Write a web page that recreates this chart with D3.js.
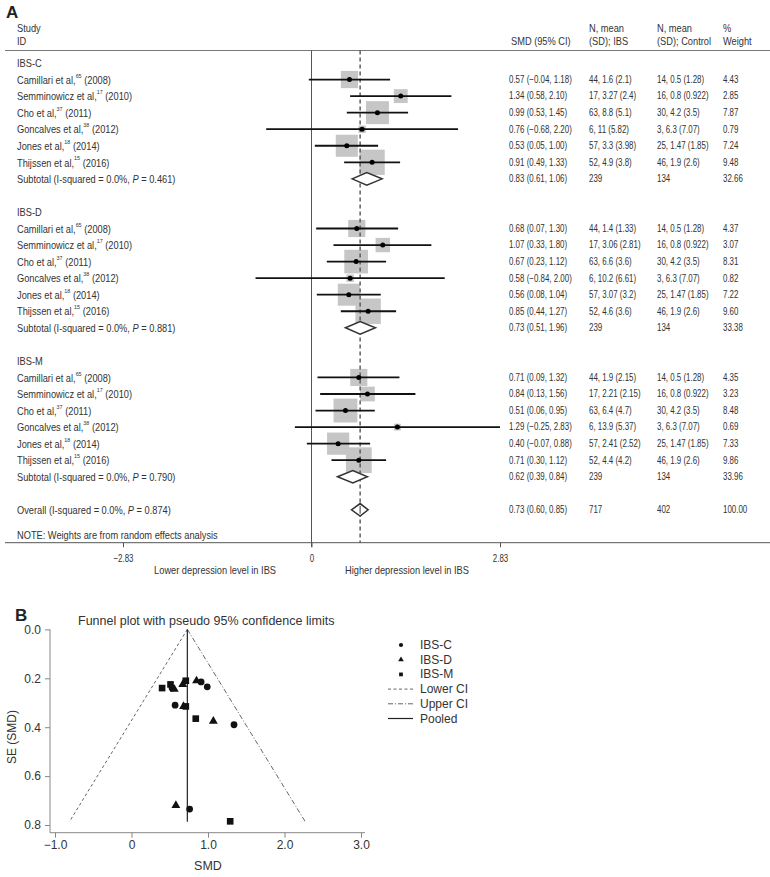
<!DOCTYPE html>
<html><head><meta charset="utf-8">
<script src="https://cdn.jsdelivr.net/npm/d3@7"></script>
<style>
body{margin:0;background:#fff;}
svg{display:block;}
.ft{font-family:"Liberation Sans",Arial,Helvetica,sans-serif;font-size:10.3px;fill:#333;}
.fn{font-family:"Liberation Sans",Arial,Helvetica,sans-serif;fill:#333;}
</style></head><body>
<svg id="c" width="770" height="877"></svg>
<script>
// ---------------- DATA ----------------
const groups = ["IBS-C", "IBS-D", "IBS-M"];
const studyNames = ["Camillari et al,", "Semminowicz et al,", "Cho et al,", "Goncalves et al,", "Jones et al,", "Thijssen et al,"];
const studyRefs = ["65", "17", "37", "38", "18", "15"];
const studyYears = ["(2008)", "(2010)", "(2011)", "(2012)", "(2014)", "(2016)"];
const smd = [
  [0.57, 1.34, 0.99, 0.76, 0.53, 0.91],
  [0.68, 1.07, 0.67, 0.58, 0.56, 0.85],
  [0.71, 0.84, 0.51, 1.29, 0.40, 0.71]
];
const ciLow = [
  [-0.04, 0.58, 0.53, -0.68, 0.05, 0.49],
  [0.07, 0.33, 0.23, -0.84, 0.08, 0.44],
  [0.09, 0.13, 0.06, -0.25, -0.07, 0.30]
];
const ciHigh = [
  [1.18, 2.10, 1.45, 2.20, 1.00, 1.33],
  [1.30, 1.80, 1.12, 2.00, 1.04, 1.27],
  [1.32, 1.56, 0.95, 2.83, 0.88, 1.12]
];
const nMeanIBS = [
  ["44, 1.6 (2.1)", "17, 3.27 (2.4)", "63, 8.8 (5.1)", "6, 11 (5.82)", "57, 3.3 (3.98)", "52, 4.9 (3.8)"],
  ["44, 1.4 (1.33)", "17, 3.06 (2.81)", "63, 6.6 (3.6)", "6, 10.2 (6.61)", "57, 3.07 (3.2)", "52, 4.6 (3.6)"],
  ["44, 1.9 (2.15)", "17, 2.21 (2.15)", "63, 6.4 (4.7)", "6, 13.9 (5.37)", "57, 2.41 (2.52)", "52, 4.4 (4.2)"]
];
const nMeanControl = [
  ["14, 0.5 (1.28)", "16, 0.8 (0.922)", "30, 4.2 (3.5)", "3, 6.3 (7.07)", "25, 1.47 (1.85)", "46, 1.9 (2.6)"],
  ["14, 0.5 (1.28)", "16, 0.8 (0.922)", "30, 4.2 (3.5)", "3, 6.3 (7.07)", "25, 1.47 (1.85)", "46, 1.9 (2.6)"],
  ["14, 0.5 (1.28)", "16, 0.8 (0.922)", "30, 4.2 (3.5)", "3, 6.3 (7.07)", "25, 1.47 (1.85)", "46, 1.9 (2.6)"]
];
const weights = [
  [4.43, 2.85, 7.87, 0.79, 7.24, 9.48],
  [4.37, 3.07, 8.31, 0.82, 7.22, 9.60],
  [4.35, 3.23, 8.48, 0.69, 7.33, 9.86]
];
const subSMD = [0.83, 0.73, 0.62];
const subLow = [0.61, 0.51, 0.39];
const subHigh = [1.06, 0.96, 0.84];          // as drawn
const subHighPrinted = [1.06, 1.96, 0.84];   // as printed in the table
const subP = ["0.461", "0.881", "0.790"];
const subNIBS = ["239", "239", "239"];
const subNControl = ["134", "134", "134"];
const subWeight = ["32.66", "33.38", "33.96"];
const overallSMD = 0.73, overallLow = 0.60, overallHigh = 0.85, overallP = "0.874";
const overallNIBS = "717", overallNControl = "402", overallWeight = "100.00";
const forestTicks = [-2.83, 0, 2.83];

// funnel plot
const seFunnel = [
  [0.31, 0.39, 0.235, 0.735, 0.24, 0.215],
  [0.315, 0.375, 0.225, 0.72, 0.245, 0.21],
  [0.315, 0.365, 0.225, 0.785, 0.24, 0.21]
];
const funnelXTicks = [-1, 0, 1, 2, 3];
const funnelYTicks = [0, 0.2, 0.4, 0.6, 0.8];
const pooledSMD = 0.73, funnelSEMax = 0.787, zCrit = 1.96;
const legendLabels = ["IBS-C", "IBS-D", "IBS-M", "Lower CI", "Upper CI", "Pooled"];

// ---------------- DRAW ----------------
const svg = d3.select("#c");
const fmt = v => (v < 0 ? "\u2212" : "") + d3.format(".2f")(Math.abs(v));
const ciText = (e, l, h) => `${fmt(e)} (${fmt(l)}, ${fmt(h)})`;

// Panel A
svg.append("text").attr("x", 6).attr("y", 18).attr("class", "fn")
  .style("font-size", "17px").style("font-weight", "bold").style("fill", "#222").text("A");

const colX = {study: 17, ci: 509, ibs: 589, ctrl: 657, w: 723};
const hdr = [[colX.study, 28, "Study"], [colX.study, 41, "ID"], [colX.ci + 2, 41, "SMD (95% CI)"],
  [colX.ibs, 28, "N, mean"], [colX.ibs, 41, "(SD); IBS"], [colX.ctrl, 28, "N, mean"],
  [colX.ctrl, 41, "(SD); Control"], [colX.w, 28, "%"], [colX.w, 41, "Weight"]];
svg.selectAll("text.hdr").data(hdr).join("text").attr("class", "ft wide hdr")
  .attr("x", d => d[0]).attr("y", d => d[1]).attr("dominant-baseline", "central").text(d => d[2]);
svg.append("line").attr("x1", 5).attr("x2", 770).attr("y1", 50.5).attr("y2", 50.5)
  .attr("stroke", "#777").attr("stroke-width", 1);

const fx = d3.scaleLinear().domain([-2.83, 2.83]).range([123, 500]);
const rowY = d3.scaleLinear().domain([0, 27]).range([63, 509.85]);
const boxSide = d3.scaleSqrt().domain([0, 1]).range([0, 8.2]);
const topY = 50.5, axisY = 542.7;

// rows
const studyRows = [], subRows = [], groupRows = [];
groups.forEach((g, gi) => {
  const base = gi * 9;
  groupRows.push({y: rowY(base), label: g});
  studyNames.forEach((s, si) => {
    studyRows.push({y: rowY(base + 1 + si), name: s, ref: studyRefs[si], year: studyYears[si],
      est: smd[gi][si], lo: ciLow[gi][si], hi: ciHigh[gi][si], w: weights[gi][si],
      ibs: nMeanIBS[gi][si], ctrl: nMeanControl[gi][si]});
  });
  subRows.push({y: rowY(base + 7), est: subSMD[gi], lo: subLow[gi], hi: subHigh[gi], hiP: subHighPrinted[gi],
    p: subP[gi], ibs: subNIBS[gi], ctrl: subNControl[gi], w: subWeight[gi], label: "Subtotal"});
});
const overallRow = {y: rowY(27), est: overallSMD, lo: overallLow, hi: overallHigh, hiP: overallHigh,
  p: overallP, ibs: overallNIBS, ctrl: overallNControl, w: overallWeight, label: "Overall"};

// zero line
svg.append("line").attr("x1", fx(0)).attr("x2", fx(0)).attr("y1", topY).attr("y2", axisY + 4.5)
  .attr("stroke", "#555").attr("stroke-width", 1);

// boxes
svg.selectAll("rect.box").data(studyRows).join("rect").attr("class", "box")
  .attr("x", d => fx(d.est) - boxSide(d.w) / 2).attr("y", d => d.y - boxSide(d.w) / 2)
  .attr("width", d => boxSide(d.w)).attr("height", d => boxSide(d.w)).attr("fill", "#c6c6c6");

// dashed overall line
svg.append("line").attr("x1", fx(overallSMD)).attr("x2", fx(overallSMD)).attr("y1", topY).attr("y2", axisY)
  .attr("stroke", "#555").attr("stroke-width", 1.4).attr("stroke-dasharray", "4,3");

// CI lines
svg.selectAll("line.ci").data(studyRows).join("line").attr("class", "ci")
  .attr("x1", d => fx(d.lo)).attr("x2", d => fx(d.hi)).attr("y1", d => d.y).attr("y2", d => d.y)
  .attr("stroke", "#111").attr("stroke-width", 1.8);
svg.selectAll("circle.pt").data(studyRows).join("circle").attr("class", "pt")
  .attr("cx", d => fx(d.est)).attr("cy", d => d.y).attr("r", 2.5).attr("fill", "#000");

// diamonds
const dia = d => {
  const h = 6.3;
  return `M${fx(d.lo)},${d.y}L${fx(d.est)},${d.y - h}L${fx(d.hi)},${d.y}L${fx(d.est)},${d.y + h}Z`;
};
svg.selectAll("path.dia").data([...subRows, overallRow]).join("path").attr("class", "dia")
  .attr("d", dia).attr("fill", "#fff").attr("stroke", "#333").attr("stroke-width", 1.5);
svg.append("line").attr("x1", fx(overallSMD)).attr("x2", fx(overallSMD))
  .attr("y1", overallRow.y - 4).attr("y2", overallRow.y + 4).attr("stroke", "#555").attr("stroke-width", 1.2);

// texts
svg.selectAll("text.grp").data(groupRows).join("text").attr("class", "ft wide grp")
  .attr("x", colX.study).attr("y", d => d.y).attr("dominant-baseline", "central").text(d => d.label);

const st = svg.selectAll("text.study").data(studyRows).join("text").attr("class", "ft wide study")
  .attr("x", colX.study).attr("y", d => d.y).attr("dominant-baseline", "central");
st.append("tspan").text(d => d.name);
st.append("tspan").attr("dy", -4).style("font-size", "6px").text(d => d.ref);
st.append("tspan").attr("dy", 4).text(d => " " + d.year);

const cols = (sel, rows) => {
  sel.selectAll(null).data(rows).join("text").attr("class", "ft").attr("x", colX.ci).attr("y", d => d.y)
    .attr("dominant-baseline", "central").text(d => ciText(d.est, d.lo, d.hiP !== undefined ? d.hiP : d.hi));
  sel.selectAll(null).data(rows).join("text").attr("class", "ft").attr("x", colX.ibs).attr("y", d => d.y)
    .attr("dominant-baseline", "central").text(d => d.ibs);
  sel.selectAll(null).data(rows).join("text").attr("class", "ft").attr("x", colX.ctrl).attr("y", d => d.y)
    .attr("dominant-baseline", "central").text(d => d.ctrl);
  sel.selectAll(null).data(rows).join("text").attr("class", "ft").attr("x", colX.w).attr("y", d => d.y)
    .attr("dominant-baseline", "central").text(d => typeof d.w === "number" ? d3.format(".2f")(d.w) : d.w);
};
cols(svg.append("g"), studyRows);
cols(svg.append("g"), [...subRows, overallRow]);

const sl = svg.selectAll("text.sub").data([...subRows, overallRow]).join("text").attr("class", "ft wide sub")
  .attr("x", colX.study).attr("y", d => d.y).attr("dominant-baseline", "central");
sl.append("tspan").text(d => d.label + " (I-squared = 0.0%, ");
sl.append("tspan").style("font-style", "italic").text("P");
sl.append("tspan").text(d => " = " + d.p + ")");

svg.append("text").attr("class", "ft wide").attr("x", colX.study).attr("y", 535.7)
  .attr("dominant-baseline", "central").text("NOTE: Weights are from random effects analysis");

// forest axis
svg.append("line").attr("x1", 5).attr("x2", 770).attr("y1", axisY).attr("y2", axisY)
  .attr("stroke", "#555").attr("stroke-width", 1);
const fAxis = svg.append("g").attr("transform", `translate(0,${axisY})`)
  .call(d3.axisBottom(fx).tickValues(forestTicks).tickSize(4.5).tickPadding(7)
    .tickFormat(v => v === 0 ? "0" : fmt(v)));
fAxis.select(".domain").remove();
fAxis.selectAll("line").attr("stroke", "#555");
fAxis.selectAll("text").attr("class", "ft");
fAxis.attr("font-family", null).attr("font-size", null);
svg.append("text").attr("class", "ft wide").attr("x", 276).attr("y", 570).attr("text-anchor", "end")
  .attr("dominant-baseline", "central").text("Lower depression level in IBS");
svg.append("text").attr("class", "ft wide").attr("x", 345).attr("y", 570)
  .attr("dominant-baseline", "central").text("Higher depression level in IBS");

// condense forest-panel text horizontally (narrow typeface look)
svg.selectAll("text.ft").each(function () {
  const t = d3.select(this);
  const k = t.classed("wide") ? 0.9 : 0.77;
  const x = +t.attr("x") || 0, y = +t.attr("y") || 0;
  const prev = t.attr("transform") || "";
  t.attr("x", 0).attr("y", 0).attr("transform", `${prev} translate(${x},${y}) scale(${k},1)`);
});

// ---------------- Panel B ----------------
svg.append("text").attr("x", 15).attr("y", 621).attr("class", "fn")
  .style("font-size", "17px").style("font-weight", "bold").style("fill", "#222").text("B");
svg.append("text").attr("class", "fn").attr("x", 78).attr("y", 621).attr("dominant-baseline", "central")
  .style("font-size", "12.5px").text("Funnel plot with pseudo 95% confidence limits");

const px = d3.scaleLinear().domain([-1, 3]).range([55, 361]);
const py = d3.scaleLinear().domain([0, 0.8]).range([629.4, 825]);
const fbX = 50, fbY = 832.7;

const ax = svg.append("g").attr("transform", `translate(0,${fbY})`)
  .call(d3.axisBottom(px).tickValues(funnelXTicks).tickSize(5).tickPadding(3)
    .tickFormat(v => v === 0 ? "0" : (v < 0 ? "\u2212" : "") + d3.format(".1f")(Math.abs(v))));
const ay = svg.append("g").attr("transform", `translate(${fbX},0)`)
  .call(d3.axisLeft(py).tickValues(funnelYTicks).tickSize(5).tickPadding(4).tickFormat(d3.format(".1f")));
[ax, ay].forEach(a => {
  a.select(".domain").remove();
  a.selectAll("line").attr("stroke", "#888");
  a.selectAll("text").attr("class", "fn").style("font-size", "12px");
  a.attr("font-family", null).attr("font-size", null);
});
svg.append("line").attr("x1", fbX).attr("x2", fbX).attr("y1", py(0)).attr("y2", fbY).attr("stroke", "#888");
svg.append("line").attr("x1", fbX).attr("x2", 365).attr("y1", fbY).attr("y2", fbY).attr("stroke", "#888");
svg.append("text").attr("class", "fn").attr("x", px(1)).attr("y", 866).attr("text-anchor", "middle")
  .attr("dominant-baseline", "central").style("font-size", "12.5px").text("SMD");
svg.append("text").attr("class", "fn").attr("transform", "translate(12,737) rotate(-90)")
  .attr("text-anchor", "middle").attr("dominant-baseline", "central").style("font-size", "12px").text("SE (SMD)");

// funnel lines
svg.append("line").attr("x1", px(pooledSMD)).attr("y1", py(0))
  .attr("x2", px(pooledSMD - zCrit * funnelSEMax)).attr("y2", py(funnelSEMax))
  .attr("stroke", "#555").attr("stroke-width", 0.9).attr("stroke-dasharray", "3,2.5");
svg.append("line").attr("x1", px(pooledSMD)).attr("y1", py(0))
  .attr("x2", px(pooledSMD + zCrit * funnelSEMax)).attr("y2", py(funnelSEMax))
  .attr("stroke", "#555").attr("stroke-width", 0.9).attr("stroke-dasharray", "5,2,1,2");
svg.append("line").attr("x1", px(pooledSMD)).attr("x2", px(pooledSMD)).attr("y1", py(0)).attr("y2", py(funnelSEMax))
  .attr("stroke", "#222").attr("stroke-width", 1.2);

// points
const symTypes = [d3.symbolCircle, d3.symbolTriangle, d3.symbolSquare];
const symSizes = [36, 34, 44];
groups.forEach((g, gi) => {
  svg.append("g").selectAll("path").data(smd[gi].map((v, i) => [v, seFunnel[gi][i]])).join("path")
    .attr("transform", d => `translate(${px(d[0])},${py(d[1])})`)
    .attr("d", d3.symbol().type(symTypes[gi]).size(symSizes[gi])).attr("fill", "#111");
});

// legend
const lgY = d3.scaleLinear().domain([0, 5]).range([645, 718.5]);
legendLabels.forEach((lab, i) => {
  const y = lgY(i);
  if (i < 3) {
    svg.append("path").attr("transform", `translate(401,${y})`)
      .attr("d", d3.symbol().type(symTypes[i]).size(14)).attr("fill", "#111");
  } else {
    const dash = ["3,2.5", "5,2,1,2", null][i - 3];
    svg.append("line").attr("x1", 388).attr("x2", 413).attr("y1", y).attr("y2", y)
      .attr("stroke", i === 5 ? "#222" : "#555").attr("stroke-width", i === 5 ? 1.2 : 0.9)
      .attr("stroke-dasharray", dash);
  }
  svg.append("text").attr("class", "fn").attr("x", 420).attr("y", y).attr("dominant-baseline", "central")
    .style("font-size", "12px").text(lab);
});
</script></body></html>
